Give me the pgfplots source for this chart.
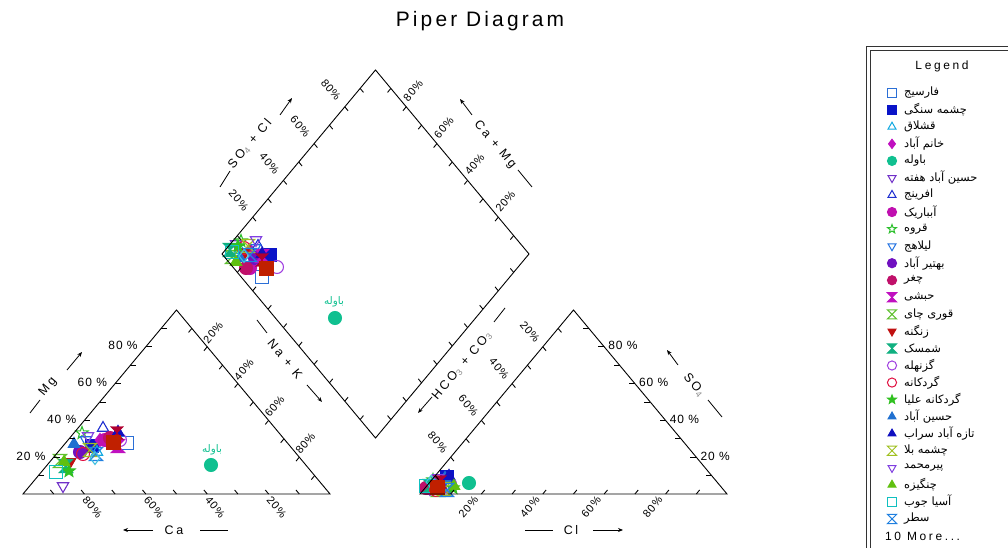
\documentclass[border=0pt]{standalone}
\usepackage{fontspec}
\setmainfont{Liberation Sans}[LetterSpace=8]
\newfontfamily\widefont[LetterSpace=22]{Liberation Sans}
\newfontfamily\titlefont[LetterSpace=15]{Liberation Sans}
\newfontfamily\arabicfont[Script=Arabic]{DejaVu Sans}
\usepackage{pgfplots}
\pgfplotsset{compat=1.18}
\usetikzlibrary{arrows.meta}
\TeXXeTstate=1

\pgfdeclareplotmark{hglass}{%
 \pgfpathmoveto{\pgfqpoint{-\pgfplotmarksize}{\pgfplotmarksize}}%
 \pgfpathlineto{\pgfqpoint{\pgfplotmarksize}{\pgfplotmarksize}}%
 \pgfpathlineto{\pgfqpoint{-\pgfplotmarksize}{-\pgfplotmarksize}}%
 \pgfpathlineto{\pgfqpoint{\pgfplotmarksize}{-\pgfplotmarksize}}%
 \pgfpathclose\pgfusepathqstroke}
\pgfdeclareplotmark{hglass*}{%
 \pgfpathmoveto{\pgfqpoint{-\pgfplotmarksize}{\pgfplotmarksize}}%
 \pgfpathlineto{\pgfqpoint{\pgfplotmarksize}{\pgfplotmarksize}}%
 \pgfpathlineto{\pgfqpoint{-\pgfplotmarksize}{-\pgfplotmarksize}}%
 \pgfpathlineto{\pgfqpoint{\pgfplotmarksize}{-\pgfplotmarksize}}%
 \pgfpathclose\pgfusepathqfillstroke}
\def\starpath{%
 \pgfpathmoveto{\pgfqpoint{0pt}{\pgfplotmarksize}}%
 \pgfpathlineto{\pgfqpoint{-0.247\pgfplotmarksize}{0.340\pgfplotmarksize}}%
 \pgfpathlineto{\pgfqpoint{-0.951\pgfplotmarksize}{0.309\pgfplotmarksize}}%
 \pgfpathlineto{\pgfqpoint{-0.399\pgfplotmarksize}{-0.130\pgfplotmarksize}}%
 \pgfpathlineto{\pgfqpoint{-0.588\pgfplotmarksize}{-0.809\pgfplotmarksize}}%
 \pgfpathlineto{\pgfqpoint{0pt}{-0.42\pgfplotmarksize}}%
 \pgfpathlineto{\pgfqpoint{0.588\pgfplotmarksize}{-0.809\pgfplotmarksize}}%
 \pgfpathlineto{\pgfqpoint{0.399\pgfplotmarksize}{-0.130\pgfplotmarksize}}%
 \pgfpathlineto{\pgfqpoint{0.951\pgfplotmarksize}{0.309\pgfplotmarksize}}%
 \pgfpathlineto{\pgfqpoint{0.247\pgfplotmarksize}{0.340\pgfplotmarksize}}%
 \pgfpathclose}
\pgfdeclareplotmark{ostar}{\starpath\pgfusepathqstroke}
\pgfdeclareplotmark{fstar}{\starpath\pgfusepathqfillstroke}

\definecolor{c01}{HTML}{2B6FD6}
\definecolor{c02}{HTML}{0A14C8}
\definecolor{c03}{HTML}{10A8E0}
\definecolor{c04}{HTML}{C010C0}
\definecolor{c05}{HTML}{10C090}
\definecolor{c06}{HTML}{7030C8}
\definecolor{c07}{HTML}{2030D0}
\definecolor{c08}{HTML}{C010B0}
\definecolor{c09}{HTML}{30C030}
\definecolor{c10}{HTML}{2070E0}
\definecolor{c11}{HTML}{7010C0}
\definecolor{c12}{HTML}{C0106A}
\definecolor{c13}{HTML}{C010C0}
\definecolor{c14}{HTML}{60C030}
\definecolor{c15}{HTML}{C01010}
\definecolor{c16}{HTML}{10B080}
\definecolor{c17}{HTML}{A040E0}
\definecolor{c18}{HTML}{E01040}
\definecolor{c19}{HTML}{30C020}
\definecolor{c20}{HTML}{2070D0}
\definecolor{c21}{HTML}{1010C0}
\definecolor{c22}{HTML}{A0C020}
\definecolor{c23}{HTML}{8040E0}
\definecolor{c24}{HTML}{60C010}
\definecolor{c25}{HTML}{10C0C0}
\definecolor{c26}{HTML}{2080E0}
\definecolor{x01}{HTML}{C02000}
\definecolor{x02}{HTML}{B00030}
\definecolor{x03}{HTML}{40C0E0}

% #1 colour, #2 mark, #3 mark options, #4 points (cation, diamond, anion), #5 legend row y, #6 name
\newcommand{\ser}[6]{%
 \addplot[only marks, color=#1, mark=#2, mark size=6.5, mark options={solid, line width=1.1bp, #3}] coordinates {#4};
 \addplot[only marks, color=#1, mark=#2, mark size=4.6, mark options={solid, line width=1bp, #3}] coordinates {(892,#5)};
 \node[anchor=west, inner sep=0pt, font=\arabicfont\fontsize{11.5}{13}\selectfont] at (axis cs:904,#5) {#6};
}

\begin{document}
\begin{tikzpicture}
\begin{axis}[scale only axis, width=1008bp, height=548bp,
  xmin=0, xmax=1008, ymin=0, ymax=548, y dir=reverse,
  axis lines=none, clip=false]
\ser{c01}{square}{}{(127,443) (262,277) (440,484)}{92.7}{\beginR فارسیج\endR}
\ser{c02}{square*}{}{(92,446) (270,255) (447,477)}{109.75}{\beginR چشمه سنگی\endR}
\ser{c03}{triangle}{}{(97,452) (240,250) (432,485)}{126.8}{\beginR قشلاق\endR}
\ser{c04}{diamond*}{}{(100,440) (250,250) (436,482)}{143.85}{\beginR خانم آباد\endR}
\ser{c05}{*}{}{(211,465) (335,318) (469,483)}{160.9}{\beginR باوله\endR}
\ser{c06}{triangle}{rotate=180}{(63,486) (236,244) (430,489)}{177.95}{\beginR حسین آباد هفته\endR}
\ser{c07}{triangle}{}{(103,428) (258,246) (448,480)}{195.0}{\beginR افرینج\endR}
\ser{c08}{*}{}{(105,440) (250,268) (428,488)}{212.05}{\beginR آبباریک\endR}
\ser{c09}{ostar}{}{(82,433) (241,241) (433,480)}{229.1}{\beginR قروه\endR}
\ser{c10}{triangle}{rotate=180}{(86,440) (255,248) (444,481)}{246.15}{\beginR لیلاهج\endR}
\ser{c11}{*}{}{(80,452) (255,258) (440,488)}{263.2}{\beginR بهتیر آباد\endR}
\ser{c12}{*}{}{(110,438) (246,268) (426,488)}{280.25}{\beginR چغر\endR}
\ser{c13}{hglass*}{}{(118,446) (262,256) (442,486)}{297.3}{\beginR حبشی\endR}
\ser{c14}{hglass}{}{(60,461) (232,257) (438,490)}{314.35}{\beginR قوری چای\endR}
\ser{c15}{triangle*}{rotate=180}{(70,462) (245,252) (434,488)}{331.4}{\beginR زنگنه\endR}
\ser{c16}{hglass*}{}{(66,466) (230,250) (430,486)}{348.45}{\beginR شمسک\endR}
\ser{c17}{o}{}{(120,440) (277,267) (450,484)}{365.5}{\beginR گزنهله\endR}
\ser{c18}{o}{}{(83,454) (244,248) (436,490)}{382.55}{\beginR گردکانه\endR}
\ser{c19}{fstar}{}{(69,471) (238,246) (453,488)}{399.6}{\beginR گردکانه علیا\endR}
\ser{c20}{triangle*}{}{(74,444) (240,258) (445,478)}{416.65}{\beginR حسین آباد\endR}
\ser{c21}{triangle*}{}{(118,432) (262,254) (449,476)}{433.7}{\beginR تازه آباد سراب\endR}
\ser{c22}{hglass}{}{(90,450) (248,246) (444,489)}{450.75}{\beginR چشمه بلا\endR}
\ser{c23}{triangle}{rotate=180}{(88,436) (256,240) (438,478)}{467.8}{\beginR پیرمحمد\endR}
\ser{c24}{triangle*}{}{(64,462) (236,262) (454,486)}{484.85}{\beginR چنگیزه\endR}
\ser{c25}{square}{}{(56,472) (232,252) (426,486)}{501.9}{\beginR آسیا جوب\endR}
\ser{c26}{hglass}{}{(96,454) (250,255) (447,490)}{518.95}{\beginR سطر\endR}
% wells of the "10 More..." group
\addplot[only marks, color=x03, mark=diamond, mark size=6.5, mark options={line width=1.1bp}] coordinates {(95,458) (244,256) (431,482)};
\addplot[only marks, color=x02, mark=hglass*, mark size=6.5] coordinates {(117,433) (262,260) (440,482)};
\addplot[only marks, color=x01, mark=square*, mark size=7] coordinates {(113,442) (266,268) (437,487)};
\end{axis}

\begin{scope}[shift={(current axis.north west)}, x=1bp, y=-1bp,
  lbl/.style={inner sep=0pt, font=\fontsize{12}{14}\selectfont},
  rlbl/.style={inner sep=0pt, font=\fontsize{11}{13}\selectfont},
  ttl/.style={inner sep=0pt, font=\widefont\fontsize{12.5}{14}\selectfont},
  arr/.style={-{Stealth[length=5bp,width=4bp]}, line width=0.8bp}]
% title
\node[inner sep=0pt, font=\titlefont\fontsize{21}{24}\selectfont] at (480,21) {Piper Diagram};
% skeleton
\begin{scope}[line width=0.9bp, line join=miter]
\draw (23,494) -- (330,494) -- (176.5,310) -- cycle;
\draw (420,494) -- (727,494) -- (573.5,310) -- cycle;
\draw (222,254) -- (375.5,70) -- (529,254) -- (375.5,438) -- cycle;
\foreach \i in {1,...,9}{
  % cation triangle
  \draw ({23+15.35*\i},{494-18.4*\i}) -- ++(6,0);
  \draw ({330-30.7*\i},494) -- ++(-3.3,-4);
  \draw ({176.5+15.35*\i},{310+18.4*\i}) -- ++(-3.3,4);
  % anion triangle
  \draw ({420+30.7*\i},494) -- ++(3.3,-4);
  \draw ({727-15.35*\i},{494-18.4*\i}) -- ++(-6,0);
  \draw ({573.5-15.35*\i},{310+18.4*\i}) -- ++(3.3,4);
  % diamond
  \draw ({222+15.35*\i},{254-18.4*\i}) -- ++(3.3,4);
  \draw ({529-15.35*\i},{254-18.4*\i}) -- ++(-3.3,4);
  \draw ({222+15.35*\i},{254+18.4*\i}) -- ++(3.3,-4);
  \draw ({529-15.35*\i},{254+18.4*\i}) -- ++(-3.3,-4);
}
\end{scope}
% tick labels
\foreach \i in {2,4,6,8}{
  \pgfmathtruncatemacro\pc{\i*10}
  \node[lbl, anchor=east] at ({23+15.35*\i-8},{494-18.4*\i-1}) {\pc{} \%};
  \node[rlbl, rotate=-50] at ({330-30.7*\i+8},507) {\pc\%};
  \node[rlbl, rotate=50] at ({176.5+15.35*\i+6},{310+18.4*\i-14}) {\pc\%};
  \node[rlbl, rotate=50] at ({420+30.7*\i-13},507) {\pc\%};
  \node[lbl, anchor=west] at ({727-15.35*\i+4},{494-18.4*\i-1}) {\pc{} \%};
  \node[rlbl, rotate=-50] at ({573.5-15.35*\i-13},{310+18.4*\i-15}) {\pc\%};
  \node[rlbl, rotate=-50] at ({222+15.35*\i-14},{254-18.4*\i-17}) {\pc\%};
  \node[rlbl, rotate=50] at ({529-15.35*\i+7},{254-18.4*\i-16}) {\pc\%};
}
% axis titles
\draw[line width=0.8bp] (30,413) -- (40,400);
\node[ttl, rotate=50] at (48,387) {Mg};
\draw[arr] (67,370) -- (82,352);
\draw[arr] (153,530) -- (123,530);
\node[ttl] at (174,530) {Ca};
\draw[line width=0.8bp] (200,530) -- (228,530);
\draw[line width=0.8bp] (257,320) -- (267,333);
\node[ttl, rotate=-50] at (285,359) {Na + K};
\draw[arr] (307,385) -- (322,402);
\draw[line width=0.8bp] (525,530) -- (553,530);
\node[ttl] at (571,530) {Cl};
\draw[arr] (593,530) -- (623,530);
\draw[arr] (678,365) -- (667,350);
\node[ttl, rotate=-50] at (694,385) {SO\textsubscript{\textcolor{black!45}{4}}};
\draw[line width=0.8bp] (708,400) -- (722,417);
\draw[arr] (432,397) -- (418,413);
\node[ttl, rotate=50] at (462,366) {HCO\textsubscript{\textcolor{black!45}{3}} + CO\textsubscript{\textcolor{black!45}{3}}};
\draw[line width=0.8bp] (494,322) -- (505,308);
\draw[line width=0.8bp] (220,187) -- (230,171);
\node[ttl, rotate=50] at (250,144) {SO\textsubscript{\textcolor{black!45}{4}} + Cl};
\draw[arr] (280,115) -- (292,98);
\draw[arr] (472,115) -- (460,99);
\node[ttl, rotate=-50] at (495,145) {Ca + Mg};
\draw[line width=0.8bp] (518,170) -- (532,187);
% point labels
\node[inner sep=0pt, text=c05, font=\arabicfont\fontsize{10.5}{12}\selectfont] at (212,450) {\beginR باوله\endR};
\node[inner sep=0pt, text=c05, font=\arabicfont\fontsize{10.5}{12}\selectfont] at (334,302) {\beginR باوله\endR};
% legend frame
\draw[line width=0.9bp, black!80] (866.5,548) -- (866.5,46.5) -- (1008,46.5);
\draw[line width=0.9bp, black!80] (870.5,548) -- (870.5,50.5) -- (1008,50.5);
\node[inner sep=0pt, font=\widefont\fontsize{12}{14}\selectfont] at (942,66) {Legend};
\node[inner sep=0pt, anchor=west, font=\widefont\fontsize{12}{14}\selectfont] at (885,536) {10 More...};
\end{scope}
\pgfresetboundingbox
\useasboundingbox (current axis.south west) rectangle (current axis.north east);
\end{tikzpicture}
\end{document}
